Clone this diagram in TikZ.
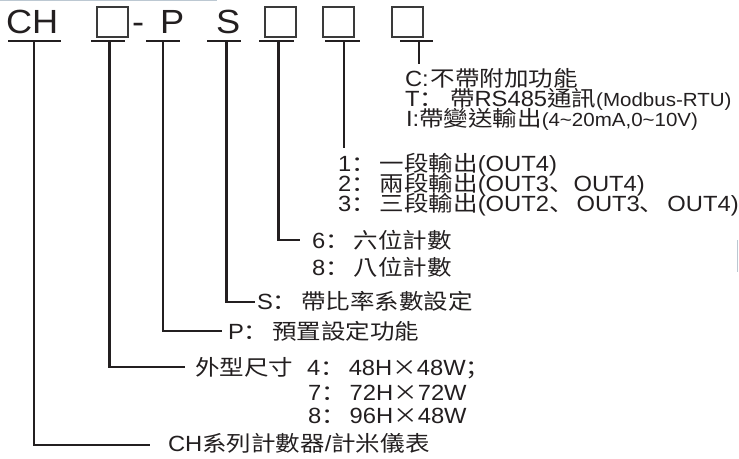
\documentclass[tikz,border=0pt]{standalone}
\usepackage{fontspec}
\usepackage{graphicx}
\setmainfont{Liberation Sans}[FakeStretch=1.08]
\newfontfamily\cjkfont{Noto Sans CJK TC}[FakeStretch=1.14]
\newfontfamily\cjkpunct{Noto Sans CJK SC}[FakeStretch=1.14]
\newcommand\zh[1]{{\cjkfont\fontsize{21.5}{21.5}\selectfont #1}}
\newcommand\zp[1]{{\cjkpunct\fontsize{21.5}{21.5}\selectfont #1}}
\newcommand\fcol{\zp{：}\hspace{4pt}}
\newcommand\sm[1]{{\fontsize{19}{19}\selectfont #1}}
\definecolor{ink}{HTML}{231F20}
\definecolor{boxc}{HTML}{3A3A3A}
\definecolor{faint}{HTML}{BCC8D2}
\begin{document}
\begin{tikzpicture}[x=1pt,y=-1pt,
  lbl/.style={anchor=base west, inner sep=0pt, outer sep=0pt, text=ink, font=\fontsize{22}{22}\selectfont},
  hdr/.style={anchor=base west, inner sep=0pt, outer sep=0pt, text=ink, font=\fontsize{33.5}{33.5}\selectfont},
  uline/.style={draw=ink, line width=2pt},
  stemline/.style={draw=ink, line width=2.4pt},
  codebox/.style={draw=boxc, line width=1.4pt, fill=white, minimum width=31pt, minimum height=30pt, inner sep=0pt, outer sep=0pt, anchor=north west},
  faintline/.style={draw=faint, line width=1.2pt}]
\useasboundingbox (0,0) rectangle (739,458);
% faint edge lines
\draw[faintline] (0,0.6) -- (217,0.6);
\draw[faintline] (737.5,240) -- (737.5,272);
% header
\node[hdr] (hCH) at (6,33) {CH};
\node[codebox] (b1) at (97,7) {};
\node[hdr] (hdash) at (132,33) {-};
\node[hdr] (hP) at (160,33) {P};
\node[hdr] (hS) at (216,33) {S};
\node[codebox] (b2) at (265,7) {};
\node[codebox] (b3) at (323,7) {};
\node[codebox] (b4) at (392,7) {};
% underlines
\draw[uline] (8,40.5) -- (61,40.5);
\draw[uline] (91,40.5) -- (125,40.5);
\draw[uline] (146,40.5) -- (180,40.5);
\draw[uline] (207,40.5) -- (241,40.5);
\draw[uline] (259,40.5) -- (294,40.5);
\draw[uline] (325,40.5) -- (360,40.5);
\draw[uline] (400,40.5) -- (433,40.5);
% stem roots
\coordinate (uCH) at (34,40.5);
\coordinate (uB1) at (109.5,40.5);
\coordinate (uP) at (163,40.5);
\coordinate (uS) at (226.5,40.5);
\coordinate (uB2) at (278.5,40.5);
\coordinate (uB3) at (344,40.5);
\coordinate (uB4) at (419,40.5);
% stem ends
\coordinate (eCH) at (150,445);
\coordinate (eB1) at (185,367);
\coordinate (eP) at (222,331);
\coordinate (eS) at (255,302);
\coordinate (eB2) at (300,240);
\coordinate (eB3) at (344,148);
\coordinate (eB4) at (419,64);
% texts
\node[lbl] (tC) at (405,86) {C:\kern2pt\zh{不帶附加功能}};
\node[lbl] (tT) at (405,106) {T\zp{：}\hspace{6pt}\zh{帶}RS485\zh{通訊}\sm{(Modbus-RTU)}};
\node[lbl] (tI) at (406,126) {I:\zh{帶變送輸出}\sm{(4\textasciitilde 20mA,0\textasciitilde 10V)}};
\node[lbl] (t1) at (338,171) {1\fcol\zh{一段輸出}(OUT4)};
\node[lbl] (t2) at (338,191) {2\fcol\zh{兩段輸出}(OUT3\zp{、}OUT4)};
\node[lbl] (t3) at (338,211) {3\fcol\zh{三段輸出}(OUT2\zp{、}\kern3pt OUT3\zp{、}\kern3pt OUT4)};
\node[lbl] (t6) at (312,248) {6\fcol\zh{六位計數}};
\node[lbl] (t8) at (312,275) {8\fcol\zh{八位計數}};
\node[lbl] (tS) at (257,309) {S\fcol\zh{帶比率系數設定}};
\node[lbl] (tP) at (228,339) {P\fcol\zh{預置設定功能}};
\node[lbl] (t4) at (195,375) {\zh{外型尺寸}\hspace{14pt}4\fcol 48H\zh{×}48W\zp{；}};
\node[lbl] (t7) at (308,400) {7\fcol 72H\zh{×}72W};
\node[lbl] (t9) at (308,423) {8\fcol 96H\zh{×}48W};
\node[lbl] (tCH) at (168,451) {CH\zh{系列計數器}/\zh{計米儀表}};
% connectors
\draw[stemline] (uCH) |- (eCH);
\draw[stemline] (uB1) |- (eB1);
\draw[stemline] (uP) |- (eP);
\draw[stemline] (uS) |- (eS);
\draw[stemline] (uB2) |- (eB2);
\draw[stemline] (uB3) -- (eB3);
\draw[stemline] (uB4) -- (eB4);
\end{tikzpicture}
\end{document}
